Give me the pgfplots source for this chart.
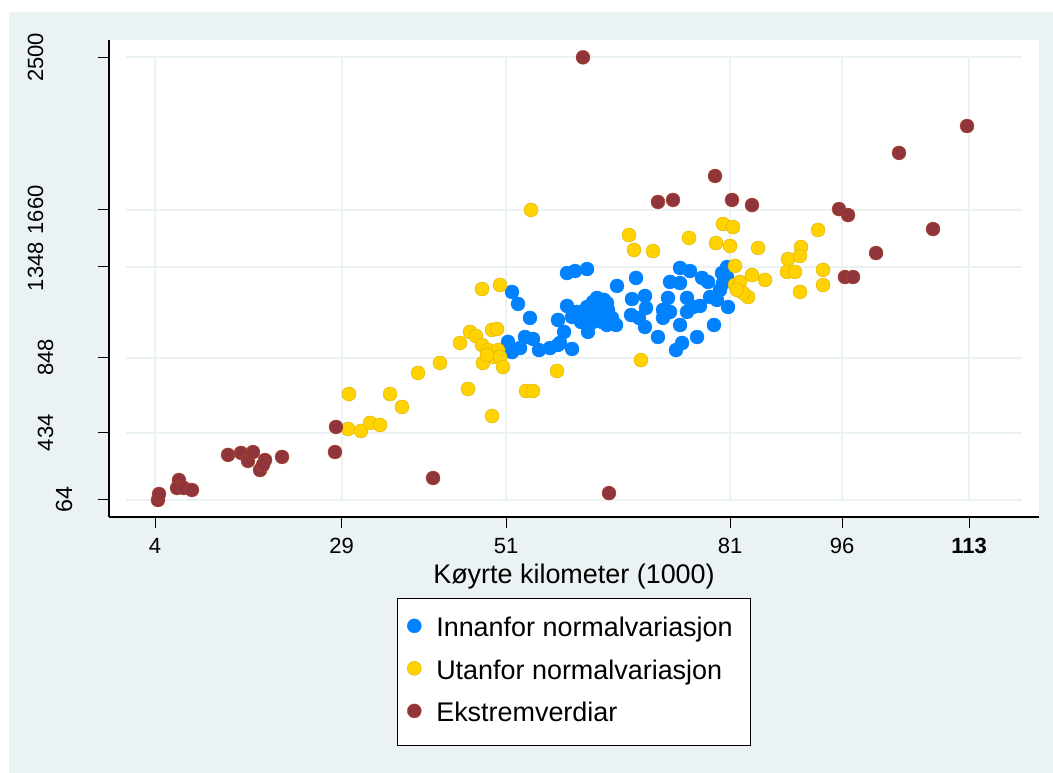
\documentclass[border=0pt]{standalone}
\usepackage{fontspec}
\setmainfont{Liberation Sans}
\usepackage{pgfplots}
\usepackage{pgfplotstable}
\pgfplotsset{compat=1.18}
\definecolor{bgc}{RGB}{234,242,243}
\definecolor{cblue}{RGB}{0,130,255}
\definecolor{cgold}{RGB}{255,210,0}
\definecolor{cmaroon}{RGB}{144,53,59}

\pgfplotstableread{
x y
51.80 1209
52.61 1143
54.21 1066
59.17 1313
60.24 1324
61.85 1335
51.27 934
51.80 878
52.88 900
53.54 961
54.62 950
55.42 889
56.89 900
57.96 917
58.77 989
59.84 895
57.96 1055
59.17 1132
59.84 1071
60.51 1099
61.04 1044
61.98 989
61.85 1126
62.65 1154
63.19 1176
64.12 1165
64.52 1148
64.66 1110
63.59 1071
64.52 1027
65.73 1027
65.86 1242
61.45 1055
62.65 1044
60.91 1093
68.41 1286
67.87 1170
69.61 1187
67.74 1082
69.75 1121
68.81 1066
69.61 1016
71.35 961
72.02 1066
72.96 1099
72.69 1176
72.96 1264
74.30 1258
74.30 1341
75.64 1324
75.24 1176
74.30 1027
74.57 928
73.76 889
76.58 961
77.25 1286
78.05 1264
78.32 1181
76.98 1132
78.85 1027
79.66 1220
79.92 1313
80.59 1346
80.73 1126
79.25 1165
76.04 1126
75.24 1099
72.02 1110
80.06 1258
80.59 1291
63.32 1110
62.25 1082
63.86 1044
58.23 928
65.19 1066
62.25 1132
}\innanfor

\pgfplotstableread{
x y
29.98 647
29.84 455
31.58 444
32.79 488
34.13 477
35.47 647
37.07 576
39.22 763
42.16 818
44.84 928
45.91 675
49.13 526
53.68 664
54.62 664
57.83 774
47.79 1225
50.20 1247
54.35 1660
46.18 989
46.98 966
47.79 917
48.59 889
49.13 1000
49.80 1005
49.93 889
47.92 818
49.26 851
50.20 851
50.60 796
48.46 862
69.08 834
67.47 1522
68.14 1440
70.68 1434
75.51 1506
79.12 1478
81.00 1462
80.06 1583
81.40 1566
84.75 1451
81.66 1352
81.66 1247
82.33 1264
83.94 1302
85.68 1275
83.41 1181
82.74 1203
81.93 1220
88.76 1390
90.50 1456
90.37 1407
88.63 1319
89.70 1319
90.37 1209
92.78 1550
93.45 1330
93.45 1247
}\utanfor

\pgfplotstableread{
x y
4.40 64
4.54 97
7.21 174
6.95 130
7.88 130
8.95 119
13.78 312
15.52 323
16.45 279
17.12 328
18.73 284
18.06 229
18.46 257
21.01 301
28.24 466
28.10 328
41.23 185
61.31 2500
64.79 102
71.35 1704
73.36 1715
78.99 1847
81.26 1715
83.94 1687
95.59 1665
96.80 1632
103.62 1974
112.73 2122
108.18 1555
100.55 1423
96.39 1291
97.47 1291
}\ekstrem

\begin{document}
\begin{tikzpicture}[x=1pt,y=1pt]
\fill[white] (0,0) rectangle (789.75,579.75);
\fill[bgc] (6.75,0) rectangle (789.75,570.75);
\begin{axis}[
  at={(81.75pt,192pt)}, anchor=south west,
  scale only axis, width=697.5pt, height=357.75pt,
  xmin=-2.16, xmax=122.37, ymin=-29.55, ymax=2595.4,
  axis x line*=bottom, axis y line*=left,
  axis line style={line width=1pt, -, black},
  axis background/.style={fill=white},
  xtick={4,29,51,81,96,113},
  xticklabels={4,29,51,81,96,\textbf{113}},
  ytick={64,434,848,1348,1660,2500},
  yticklabels={\raisebox{19.75pt}{\fontsize{17.5}{20}\selectfont 64},\raisebox{34pt}{434},\raisebox{34pt}{848},\raisebox{41.5pt}{1348},\raisebox{41.5pt}{1660},\raisebox{41.5pt}{2500}},
  tick align=outside, major tick length=8pt,
  tick style={line width=0.75pt, black},
  xticklabel style={font=\fontsize{16.5}{19}\selectfont, inner sep=0pt, anchor=north, yshift=-7.5pt},
  yticklabel style={font=\fontsize{16.5}{19}\selectfont, inner sep=0pt, anchor=base, rotate=90},
  xlabel={Køyrte kilometer (1000)},
  xlabel style={at={(axis description cs:0.5,0)}, anchor=base, yshift=-50.25pt, font=\fontsize{20.2}{24}\selectfont, inner sep=0pt},
  legend style={at={(axis description cs:0.5,-0.1698)}, anchor=north, draw=black, line width=0.75pt, fill=white,
    font=\fontsize{20.2}{24}\selectfont, inner xsep=7.5pt, inner ysep=13.8pt, row sep=13pt,
    cells={anchor=west}, nodes={inner sep=0pt, text height=14.7pt, text depth=4.2pt},
    /tikz/every odd column/.append style={column sep=11.25pt}},
  legend image code/.code={\draw[#1, only marks] plot coordinates {(0pt,2.75pt)};},
]
\pgfplotsinvokeforeach{64,434,848,1348,1660,2500}{
  \draw[bgc, line width=1.5pt] (axis cs:0.12,#1) -- (axis cs:120.1,#1);
}
\pgfplotsinvokeforeach{4,29,51,81,96,113}{
  \draw[bgc, line width=1.5pt] (axis cs:#1,64) -- (axis cs:#1,2500);
}
\addplot[only marks, mark=*, mark size=5.25pt, mark options={fill=cblue, draw=cblue, line width=0.3pt}] table[x=x,y=y] {\innanfor};
\addlegendentry{Innanfor normalvariasjon\hspace*{6pt}}
\addplot[only marks, mark=*, mark size=5.25pt, mark options={fill=cgold, draw=cgold!85!black, line width=0.3pt}] table[x=x,y=y] {\utanfor};
\addlegendentry{Utanfor normalvariasjon}
\addplot[only marks, mark=*, mark size=5.25pt, mark options={fill=cmaroon, draw=cmaroon!70!orange, line width=0.3pt}] table[x=x,y=y] {\ekstrem};
\addlegendentry{Ekstremverdiar}
\end{axis}
\pgfresetboundingbox
\path[use as bounding box] (0,0) rectangle (789.75,579.75);
\end{tikzpicture}
\end{document}
